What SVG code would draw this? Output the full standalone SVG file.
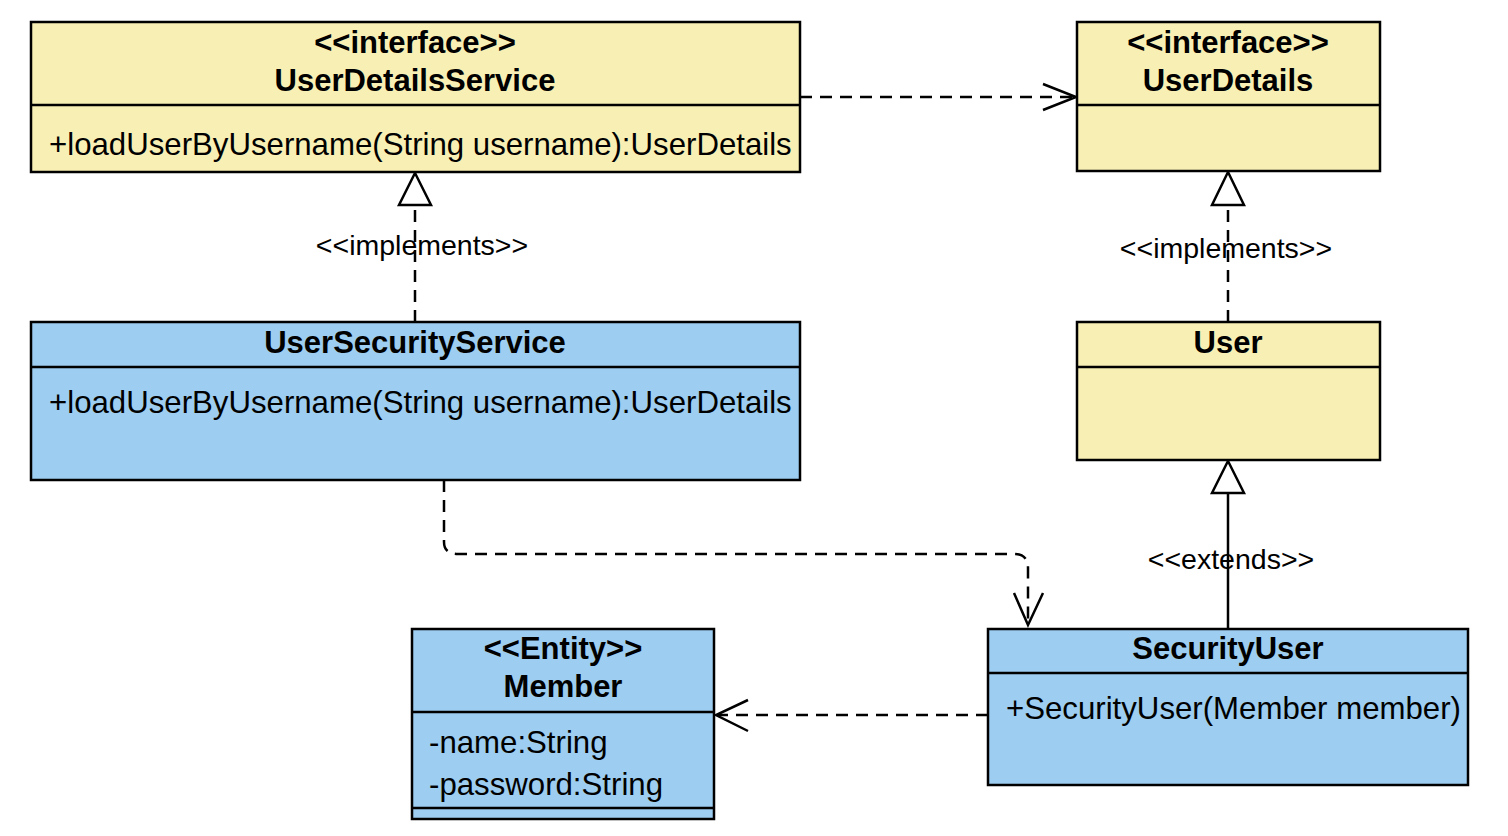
<svg xmlns="http://www.w3.org/2000/svg" width="1508" height="836" viewBox="0 0 1508 836">
<style>
.y{fill:#F8EFB4;stroke:#000;stroke-width:2.5}
.b{fill:#9DCDF0;stroke:#000;stroke-width:2.5}
.d{stroke:#000;stroke-width:2.5}
text{font-family:"Liberation Sans",Arial,sans-serif;fill:#000}
.t{font-size:31px;font-weight:bold;text-anchor:middle}
.m{font-size:31.2px}
.l{font-size:28.5px;text-anchor:middle}
.c{fill:none;stroke:#000;stroke-width:2.5}
.dash{stroke-dasharray:12 8}
.tri{fill:#fff;stroke:#000;stroke-width:2.5}
</style>
<rect width="1508" height="836" fill="#fff"/>
<g id="connectors">
<path class="c dash" d="M800 97 H1075"/>
<path class="c" d="M1043 84 L1076 97 L1043 110"/>
<path class="c dash" d="M415 322 V205"/>
<path class="tri" d="M415 173 L431 205 L399 205 Z"/>
<path class="c dash" d="M1228 322 V205"/>
<path class="tri" d="M1228 172 L1244 205 L1212 205 Z"/>
<path class="c" d="M1228 629 V493"/>
<path class="tri" d="M1228 461 L1244 493 L1212 493 Z"/>
<path class="c dash" d="M444 480 V542 Q444 554 458 554 H1014 Q1028 554 1028 568 V624"/>
<path class="c" d="M1014 593 L1028 625 L1043 593"/>
<path class="c dash" d="M988 715 H718"/>
<path class="c" d="M748 700 L716 715 L748 731"/>
<text class="l" x="422" y="255">&lt;&lt;implements&gt;&gt;</text>
<text class="l" x="1226" y="258">&lt;&lt;implements&gt;&gt;</text>
<text class="l" x="1231" y="569">&lt;&lt;extends&gt;&gt;</text>
</g>
<g id="UserDetailsService">
<rect class="y" x="31" y="22" width="769" height="150"/>
<line class="d" x1="31" y1="105" x2="800" y2="105"/>
<text class="t" x="415" y="53">&lt;&lt;interface&gt;&gt;</text>
<text class="t" x="415" y="91">UserDetailsService</text>
<text class="m" x="49" y="155">+loadUserByUsername(String username):UserDetails</text>
</g>
<g id="UserDetails">
<rect class="y" x="1077" y="22" width="303" height="149"/>
<line class="d" x1="1077" y1="105" x2="1380" y2="105"/>
<text class="t" x="1228" y="53">&lt;&lt;interface&gt;&gt;</text>
<text class="t" x="1228" y="91">UserDetails</text>
</g>
<g id="UserSecurityService">
<rect class="b" x="31" y="322" width="769" height="158"/>
<line class="d" x1="31" y1="367" x2="800" y2="367"/>
<text class="t" x="415" y="353">UserSecurityService</text>
<text class="m" x="49" y="413">+loadUserByUsername(String username):UserDetails</text>
</g>
<g id="User">
<rect class="y" x="1077" y="322" width="303" height="138"/>
<line class="d" x1="1077" y1="367" x2="1380" y2="367"/>
<text class="t" x="1228" y="353">User</text>
</g>
<g id="Member">
<rect class="b" x="412" y="629" width="302" height="190"/>
<line class="d" x1="412" y1="712" x2="714" y2="712"/>
<line class="d" x1="412" y1="808" x2="714" y2="808"/>
<text class="t" x="563" y="659">&lt;&lt;Entity&gt;&gt;</text>
<text class="t" x="563" y="697">Member</text>
<text class="m" x="429" y="753">-name:String</text>
<text class="m" x="429" y="795">-password:String</text>
</g>
<g id="SecurityUser">
<rect class="b" x="988" y="629" width="480" height="156"/>
<line class="d" x1="988" y1="673" x2="1468" y2="673"/>
<text class="t" x="1228" y="659">SecurityUser</text>
<text class="m" x="1006" y="719">+SecurityUser(Member member)</text>
</g>
</svg>
